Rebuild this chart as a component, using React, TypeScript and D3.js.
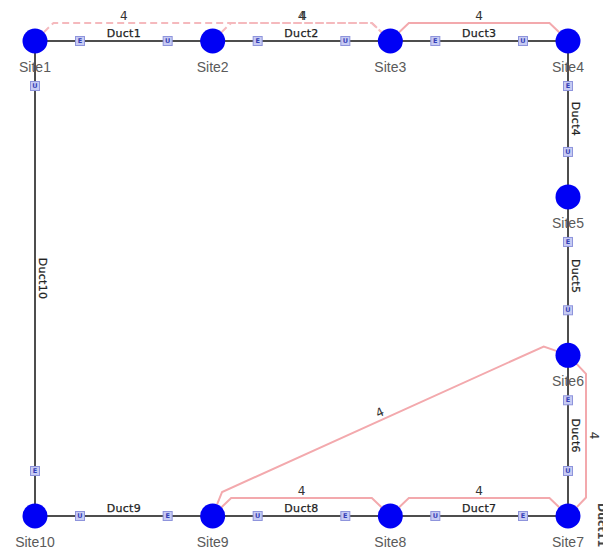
import React from 'react';
import * as d3 from 'd3';

const siteNames = ['Site1', 'Site2', 'Site3', 'Site4', 'Site5', 'Site6', 'Site7', 'Site8', 'Site9', 'Site10'];
const siteCol = [0, 1, 2, 3, 3, 3, 3, 2, 1, 0];
const siteRow = [0, 0, 0, 0, 0.985, 1.985, 3, 3, 3, 3];

const ductNames = ['Duct1', 'Duct2', 'Duct3', 'Duct4', 'Duct5', 'Duct6', 'Duct7', 'Duct8', 'Duct9', 'Duct10'];
const ductFrom = [0, 1, 2, 3, 4, 5, 6, 7, 8, 9];
const ductTo = [1, 2, 3, 4, 5, 6, 7, 8, 9, 0];

const trailRoutes = [[0, 1, 2], [1, 2], [2, 3], [5, 6], [8, 5], [8, 7], [7, 6]];
const trailDashed = [true, true, false, false, false, false, false];
const trailValues = ['4', '4', '4', '4', '4', '4', '4'];

const W = 603;
const H = 550;
const R = 12.5;
const OFF = 18;
const MARK = 45;

const x = d3.scaleLinear().domain([0, 3]).range([35, 568]);
const y = d3.scaleLinear().domain([0, 3]).range([41, 516]);

type P = [number, number];
const pos = (i: number): P => [x(siteCol[i]), y(siteRow[i])];
const unit = (a: P, b: P): P => {
  const dx = b[0] - a[0], dy = b[1] - a[1];
  const l = Math.hypot(dx, dy);
  return [dx / l, dy / l];
};
const readable = (deg: number) => (deg <= -90 || deg > 90 ? deg + 180 : deg);

function trailGeometry(route: number[]) {
  const pts: P[] = [];
  const labels: { p: P; angle: number }[] = [];
  for (let k = 0; k < route.length - 1; k++) {
    const A = pos(route[k]);
    const B = pos(route[k + 1]);
    const d = unit(A, B);
    const n: P = [d[1], -d[0]];
    const p1: P = [A[0] + d[0] * (R + 6) + n[0] * OFF, A[1] + d[1] * (R + 6) + n[1] * OFF];
    const p2: P = [B[0] - d[0] * (R + 6) + n[0] * OFF, B[1] - d[1] * (R + 6) + n[1] * OFF];
    if (k === 0) {
      const s = unit([0, 0], [d[0] + n[0], d[1] + n[1]]);
      pts.push([A[0] + s[0] * R, A[1] + s[1] * R]);
    }
    pts.push(p1, p2);
    if (k === route.length - 2) {
      const s = unit([0, 0], [-d[0] + n[0], -d[1] + n[1]]);
      pts.push([B[0] + s[0] * R, B[1] + s[1] * R]);
    }
    const mid: P = [(p1[0] + p2[0]) / 2 + n[0] * 7.5, (p1[1] + p2[1]) / 2 + n[1] * 7.5];
    labels.push({ p: mid, angle: readable((Math.atan2(d[1], d[0]) * 180) / Math.PI) });
  }
  return { pts, labels };
}

const line = d3.line<P>().x((p) => p[0]).y((p) => p[1]);

export default function App() {
  return (
    <svg
      width={W}
      height={H}
      viewBox={`0 0 ${W} ${H}`}
      style={{ position: 'absolute', left: 0, top: 0, background: '#fff' }}
    >
      <rect x={0} y={0} width={W} height={H} fill="#ffffff" />
      {/* ducts */}
      {ductNames.map((name, i) => {
        const A = pos(ductFrom[i]);
        const B = pos(ductTo[i]);
        return <line key={name} x1={A[0]} y1={A[1]} x2={B[0]} y2={B[1]} stroke="#4d4d4d" strokeWidth={2} />;
      })}
      {/* trails */}
      {trailRoutes.map((route, t) => {
        const g = trailGeometry(route);
        return (
          <g key={'t' + t}>
            <path
              d={line(g.pts) || ''}
              fill="none"
              stroke={trailDashed[t] ? '#f5b9bd' : '#f3a9ad'}
              strokeWidth={2}
              strokeDasharray={trailDashed[t] ? '7,4' : undefined}
            />
            {g.labels.map((l, j) => (
              <text
                key={j}
                transform={`translate(${l.p[0] + (t === 1 ? 1.5 : 0)},${l.p[1]}) rotate(${l.angle})`}
                textAnchor="middle"
                dominantBaseline="central"
                fontFamily="DejaVu Sans, sans-serif"
                fontSize={12}
                fill="#333"
              >
                {trailValues[t]}
              </text>
            ))}
          </g>
        );
      })}
      {/* duct labels and end markers */}
      {ductNames.map((name, i) => {
        const A = pos(ductFrom[i]);
        const B = pos(ductTo[i]);
        const d = unit(A, B);
        const ang = readable((Math.atan2(d[1], d[0]) * 180) / Math.PI);
        const mid: P = [(A[0] + B[0]) / 2, (A[1] + B[1]) / 2];
        const mE: P = [A[0] + d[0] * MARK, A[1] + d[1] * MARK];
        const mU: P = [B[0] - d[0] * MARK, B[1] - d[1] * MARK];
        return (
          <g key={'dl' + name}>
            <text
              transform={`translate(${mid[0]},${mid[1]}) rotate(${ang})`}
              y={-4}
              textAnchor="middle"
              fontFamily="DejaVu Sans, sans-serif"
              fontSize={11}
              fill="#222"
              stroke="#222"
              strokeWidth={0.25}
              letterSpacing={0.3}
            >
              {name}
            </text>
            {[
              { p: mE, c: 'E' },
              { p: mU, c: 'U' },
            ].map((m, j) => (
              <g key={j} transform={`translate(${m.p[0]},${m.p[1]})`}>
                <rect x={-4.5} y={-4.5} width={9} height={9} fill="#c7cbf3" stroke="#8e94dc" strokeWidth={1} />
                <text
                  textAnchor="middle"
                  dominantBaseline="central"
                  fontFamily="DejaVu Sans, sans-serif"
                  fontSize={6.5}
                  fontWeight="bold"
                  fill="#3540b8"
                >
                  {m.c}
                </text>
              </g>
            ))}
          </g>
        );
      })}
      {/* sites */}
      {siteNames.map((name, i) => {
        const p = pos(i);
        return (
          <g key={name}>
            <circle cx={p[0]} cy={p[1]} r={R} fill="#0000f5" />
            <text
              x={p[0]}
              y={p[1] + 31}
              textAnchor="middle"
              fontFamily="Liberation Sans, Arial, sans-serif"
              fontSize={14}
              fill="#5a5a5a"
            >
              {name}
            </text>
          </g>
        );
      })}
      {/* clipped label at right edge */}
      <text
        transform="translate(598,503) rotate(90)"
        fontFamily="DejaVu Sans, sans-serif"
        fontSize={11}
        fontWeight="bold"
        fill="#444"
      >
        Duct11
      </text>
    </svg>
  );
}
